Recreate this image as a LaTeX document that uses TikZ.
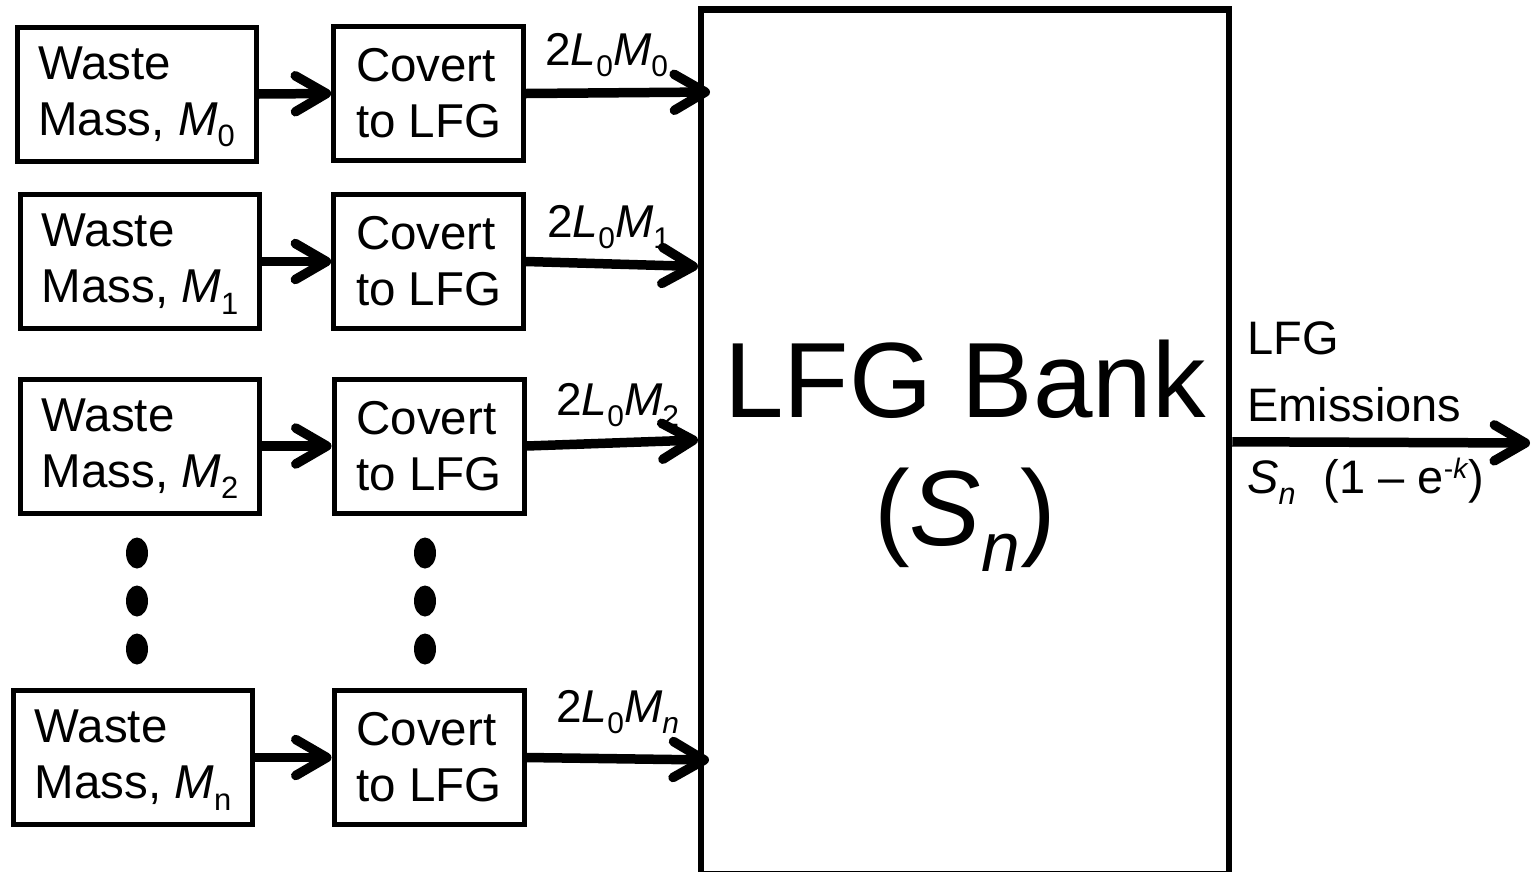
\documentclass[tikz,border=0pt]{standalone}
\usepackage{fontspec}
\setmainfont{Liberation Sans}
\usetikzlibrary{arrows.meta}
\newcommand{\lsub}[1]{\raisebox{-0.24em}[0pt][0pt]{\scalebox{0.65}{#1}}}
\newcommand{\lsup}[1]{\raisebox{0.3em}{\scalebox{0.6}{#1}}}
\newcommand{\Mi}[1]{\textit{M}\lsub{#1}}
\begin{document}
\begin{tikzpicture}[x=1pt,y=-1pt,
  wbox/.style={draw, line width=5pt, minimum width=239pt, minimum height=134pt,
    inner sep=0pt, align=left, font=\fontsize{47.5}{56}\selectfont},
  cbox/.style={wbox, minimum width=190pt},
  conn/.style={line width=9.5pt, -{Straight Barb[length=31pt,width=36pt,round]}},
  lbl/.style={anchor=base west, inner sep=0pt, font=\fontsize{46}{55}\selectfont},
  side/.style={inner sep=0pt, font=\fontsize{47}{67}\selectfont}
]
\useasboundingbox (0,0) rectangle (1531,871);

% big box
\node[draw, line width=6.5pt, minimum width=528pt, minimum height=864.5pt, inner sep=0pt]
  (bank) at (965,441.75) {};
\node[inner sep=0pt, align=center, font=\fontsize{107}{128}\selectfont]
  (banktxt) at (965,454) {LFG Bank\\(\textit{S}\lsub{\textit{n}})};

% waste boxes
\node[wbox] (w0) at (136.5,94) {Waste\\Mass, \Mi{0}};
\node[wbox] (w1) at (140,261.5) {Waste\\Mass, \Mi{1}};
\node[wbox] (w2) at (140,446) {Waste\\Mass, \Mi{2}};
\node[wbox] (wn) at (133,757.5) {Waste\\Mass, \Mi{n}};

% convert boxes
\node[cbox] (c0) at (428.6,93.5) {Covert\\to LFG};
\node[cbox] (c1) at (428.6,261.5) {Covert\\to LFG};
\node[cbox] (c2) at (429,446) {Covert\\to LFG};
\node[cbox] (cn) at (429,757.5) {Covert\\to LFG};

% dots
\foreach \yy in {553,601,649} {
  \fill (137,\yy) ellipse [x radius=11pt, y radius=15.5pt];
  \fill (425,\yy) ellipse [x radius=11pt, y radius=15.5pt];
}

% arrows waste -> convert
\draw[conn] (w0.east) -- (c0.west);
\draw[conn] (w1.east) -- (c1.west);
\draw[conn] (w2.east) -- (c2.west);
\draw[conn] (wn.east) -- (cn.west);

% arrows convert -> bank
\coordinate (t0) at (710,92);
\coordinate (t1) at (698,266.5);
\coordinate (t2) at (698,440);
\coordinate (tn) at (709,760);
\draw[conn] (c0.east) -- (t0);
\draw[conn] (c1.east) -- (t1);
\draw[conn] (c2.east) -- (t2);
\draw[conn] (cn.east) -- (tn);

% labels
\node[lbl] (l0) at (545,65) {2\textit{L}\lsub{0}\textit{M}\lsub{0}};
\node[lbl] (l1) at (547,237) {2\textit{L}\lsub{0}\textit{M}\lsub{1}};
\node[lbl] (l2) at (556,415) {2\textit{L}\lsub{0}\textit{M}\lsub{2}};
\node[lbl] (ln) at (556,722) {2\textit{L}\lsub{0}\textit{M}\lsub{\textit{n}}};

% output
\coordinate (out) at (1530,443);
\draw[conn] (bank.east) -- (out);
\node[side, anchor=south west, align=left] (em) at (1247,422) {LFG\\Emissions};
\node[side, anchor=base west] (sn) at (1247,493)
  {\textit{S}\lsub{\textit{n}}\hspace{0.6em}(1 – e\lsup{-\textit{k}})};
\end{tikzpicture}
\end{document}
